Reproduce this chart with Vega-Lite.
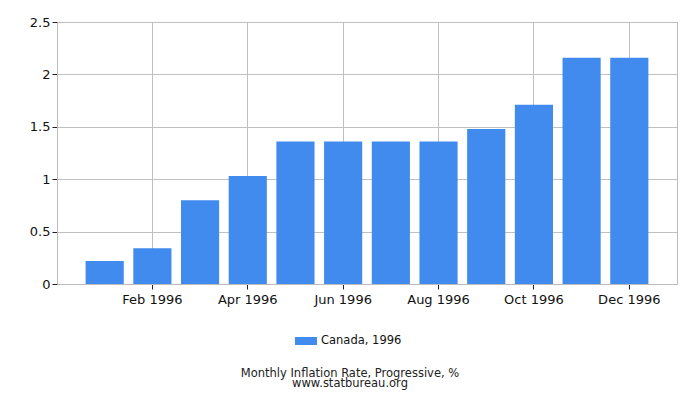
{
  "$schema": "https://vega.github.io/schema/vega-lite/v6.json",
  "width": 620,
  "height": 262,
  "autosize": "none",
  "padding": {"left": 57, "top": 22, "right": 23, "bottom": 116},
  "background": "white",
  "data": {
    "values": [
      {"month": "Jan 1996", "rate": 0.22, "series": "Canada, 1996"},
      {"month": "Feb 1996", "rate": 0.34, "series": "Canada, 1996"},
      {"month": "Mar 1996", "rate": 0.80, "series": "Canada, 1996"},
      {"month": "Apr 1996", "rate": 1.03, "series": "Canada, 1996"},
      {"month": "May 1996", "rate": 1.36, "series": "Canada, 1996"},
      {"month": "Jun 1996", "rate": 1.36, "series": "Canada, 1996"},
      {"month": "Jul 1996", "rate": 1.36, "series": "Canada, 1996"},
      {"month": "Aug 1996", "rate": 1.36, "series": "Canada, 1996"},
      {"month": "Sep 1996", "rate": 1.48, "series": "Canada, 1996"},
      {"month": "Oct 1996", "rate": 1.71, "series": "Canada, 1996"},
      {"month": "Nov 1996", "rate": 2.16, "series": "Canada, 1996"},
      {"month": "Dec 1996", "rate": 2.16, "series": "Canada, 1996"}
    ]
  },
  "title": {
    "text": ["Monthly Inflation Rate, Progressive, %", "www.statbureau.org"],
    "orient": "bottom",
    "anchor": "middle",
    "fontSize": 11.5,
    "fontWeight": "normal",
    "font": "DejaVu Sans",
    "color": "#222222",
    "lineHeight": 10,
    "offset": 21,
    "dx": -17
  },
  "config": {
    "font": "DejaVu Sans",
    "view": {"stroke": "#bbbbbb", "strokeWidth": 1},
    "axis": {
      "gridColor": "#c0c0c0",
      "gridOpacity": 1,
      "domainColor": "#bbbbbb",
      "tickColor": "#222222",
      "tickSize": 5,
      "labelFontSize": 13,
      "labelColor": "#111111",
      "labelFont": "DejaVu Sans"
    }
  },
  "mark": {"type": "bar", "color": "#428BEE"},
  "encoding": {
    "x": {
      "field": "month",
      "type": "ordinal",
      "sort": null,
      "title": null,
      "scale": {"paddingInner": 0.2, "paddingOuter": 0.6},
      "axis": {
        "values": ["Feb 1996", "Apr 1996", "Jun 1996", "Aug 1996", "Oct 1996", "Dec 1996"],
        "labelAngle": 0,
        "bandPosition": 0.5,
        "grid": true,
        "labelPadding": 4
      }
    },
    "y": {
      "field": "rate",
      "type": "quantitative",
      "title": null,
      "scale": {"domain": [0, 2.5]},
      "axis": {"values": [0, 0.5, 1, 1.5, 2, 2.5], "format": "~g", "labelPadding": 2}
    },
    "fill": {
      "field": "series",
      "type": "nominal",
      "scale": {"range": ["#428BEE"]},
      "legend": {
        "title": null,
        "orient": "none",
        "legendX": 241,
        "legendY": 311,
        "symbolType": "M-1.375,-0.5H1.375V0.5H-1.375Z",
        "symbolSize": 256,
        "symbolStrokeWidth": 0,
        "labelFontSize": 11.5,
        "labelColor": "#111111",
        "labelOffset": 7
      }
    }
  }
}
